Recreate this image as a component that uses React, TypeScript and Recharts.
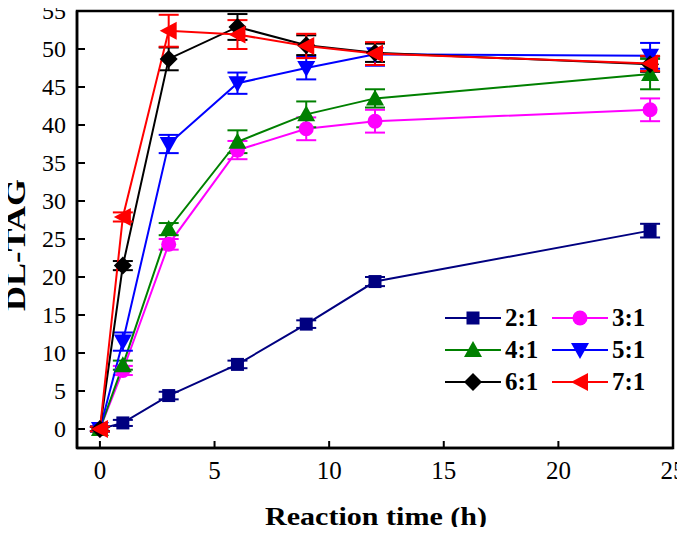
import { LineChart, Line, XAxis, YAxis, ErrorBar, ReferenceArea, Label } from 'recharts'

// reaction time (h)
const times = [0, 1, 3, 6, 9, 12, 24]

// DL-TAG yield per molar ratio
const ratio21 = [0, 0.8, 4.4, 8.5, 13.8, 19.4, 26.1]
const ratio31 = [0, 7.7, 24.3, 36.7, 39.5, 40.5, 42.0]
const ratio41 = [0, 8.4, 26.3, 37.8, 41.4, 43.5, 46.7]
const ratio51 = [0, 11.5, 37.5, 45.5, 47.5, 49.3, 49.1]
const ratio61 = [0, 21.5, 48.7, 52.9, 50.5, 49.5, 48.0]
const ratio71 = [0, 27.9, 52.4, 51.9, 50.4, 49.4, 48.1]

// error bar half-widths
const err21 = [0.3, 0.4, 0.5, 0.5, 0.5, 0.6, 0.9]
const err31 = [0.3, 0.6, 0.7, 1.2, 1.5, 1.5, 1.5]
const err41 = [0.3, 0.6, 0.8, 1.5, 1.7, 1.2, 2.0]
const err51 = [0.3, 1.2, 1.2, 1.4, 1.5, 1.5, 1.7]
const err61 = [0.3, 0.6, 1.5, 1.7, 1.3, 1.2, 1.0]
const err71 = [0.3, 0.6, 2.1, 1.9, 1.6, 1.5, 1.0]

const xTicks = [0, 5, 10, 15, 20, 25]
const yTicks = [0, 5, 10, 15, 20, 25, 30, 35, 40, 45, 50, 55]

type Shape = 'square' | 'circle' | 'up' | 'down' | 'diamond' | 'left'

const series: Array<{ key: string; name: string; color: string; shape: Shape; values: number[]; errors: number[] }> = [
  { key: 'r21', name: '2:1', color: '#000080', shape: 'square', values: ratio21, errors: err21 },
  { key: 'r31', name: '3:1', color: '#ff00ff', shape: 'circle', values: ratio31, errors: err31 },
  { key: 'r41', name: '4:1', color: '#008000', shape: 'up', values: ratio41, errors: err41 },
  { key: 'r51', name: '5:1', color: '#0000ff', shape: 'down', values: ratio51, errors: err51 },
  { key: 'r61', name: '6:1', color: '#000000', shape: 'diamond', values: ratio61, errors: err61 },
  { key: 'r71', name: '7:1', color: '#ff0000', shape: 'left', values: ratio71, errors: err71 },
]

const data = times.map((t, i) => {
  const row: Record<string, number> = { t }
  series.forEach(s => {
    row[s.key] = s.values[i]
    row[s.key + 'Err'] = s.errors[i]
  })
  return row
})

const FONT = '"Liberation Serif", "Times New Roman", serif'

function Marker({ cx, cy, shape, color }: { cx: number; cy: number; shape: Shape; color: string }) {
  if (cx == null || cy == null) return null
  switch (shape) {
    case 'square':
      return <rect x={cx - 6.5} y={cy - 6.5} width={13} height={13} fill={color} />
    case 'circle':
      return <circle cx={cx} cy={cy} r={7.5} fill={color} />
    case 'up':
      return <polygon points={`${cx},${cy - 9} ${cx - 9},${cy + 7} ${cx + 9},${cy + 7}`} fill={color} />
    case 'down':
      return <polygon points={`${cx},${cy + 9} ${cx - 9},${cy - 7} ${cx + 9},${cy - 7}`} fill={color} />
    case 'diamond':
      return <polygon points={`${cx},${cy - 9} ${cx + 9},${cy} ${cx},${cy + 9} ${cx - 9},${cy}`} fill={color} />
    default:
      return <polygon points={`${cx - 9},${cy} ${cx + 8},${cy - 9} ${cx + 8},${cy + 9}`} fill={color} />
  }
}

const XTick = (props: any) => {
  const { x, y, payload } = props
  return (
    <g>
      <line x1={x} y1={y} x2={x} y2={y - 7} stroke="#000" strokeWidth={2} />
      <text x={x} y={y + 31} textAnchor="middle" fontFamily={FONT} fontSize={25} fill="#000">
        {payload.value}
      </text>
    </g>
  )
}

const YTick = (props: any) => {
  const { x, y, payload } = props
  return (
    <g>
      <line x1={x} y1={y} x2={x + 8} y2={y} stroke="#000" strokeWidth={2} />
      <text x={x - 11} y={y + 8} textAnchor="end" fontFamily={FONT} fontSize={24} fill="#000">
        {payload.value}
      </text>
    </g>
  )
}

const LegendBox = () => (
  <div
    style={{
      position: 'absolute',
      left: 445,
      top: 302,
      display: 'grid',
      gridTemplateColumns: '107px 107px',
      fontFamily: FONT,
    }}
  >
    {series.map(s => (
      <div key={s.key} style={{ display: 'flex', alignItems: 'center', height: 32 }}>
        <svg width={56} height={24}>
          <line x1={0} y1={12} x2={56} y2={12} stroke={s.color} strokeWidth={2} />
          <Marker cx={28} cy={12} shape={s.shape} color={s.color} />
        </svg>
        <span style={{ marginLeft: 4, fontSize: 25, fontWeight: 'bold', color: '#000', lineHeight: '32px' }}>{s.name}</span>
      </div>
    ))}
  </div>
)

export default function App() {
  return (
    <div style={{ margin: -8, width: 685, height: 535, background: '#fff', position: 'relative' }}>
      <LineChart width={685} height={535} data={data} margin={{ top: 11, right: 12, bottom: 0, left: 0 }}>
        <ReferenceArea x1={-1} x2={25} y1={-2.5} y2={55} fill="none" stroke="#000" strokeWidth={2.5} ifOverflow="visible" />
        <XAxis
          type="number"
          dataKey="t"
          domain={[-1, 25]}
          ticks={xTicks}
          allowDataOverflow
          height={87}
          tickSize={0}
          tickMargin={0}
          tickLine={false}
          tick={<XTick />}
          axisLine={{ stroke: '#000', strokeWidth: 2.5 }}
        >
          <Label
            content={() => (
              <text
                x={376}
                y={525}
                textAnchor="middle"
                fontFamily={FONT}
                fontSize={26}
                fontWeight="bold"
                textLength={222}
                lengthAdjust="spacingAndGlyphs"
                fill="#000"
              >
                Reaction time (h)
              </text>
            )}
          />
        </XAxis>
        <YAxis
          type="number"
          domain={[-2.5, 55]}
          ticks={yTicks}
          allowDataOverflow
          width={77}
          tickSize={0}
          tickMargin={0}
          tickLine={false}
          tick={<YTick />}
          axisLine={{ stroke: '#000', strokeWidth: 2.5 }}
        >
          <Label
            content={() => (
              <text
                x={25}
                y={245}
                transform="rotate(-90, 25, 245)"
                textAnchor="middle"
                fontFamily={FONT}
                fontSize={27}
                fontWeight="bold"
                textLength={132}
                lengthAdjust="spacingAndGlyphs"
                fill="#000"
              >
                DL-TAG
              </text>
            )}
          />
        </YAxis>
        {series.map(s => (
          <Line
            key={s.key}
            type="linear"
            dataKey={s.key}
            name={s.name}
            stroke={s.color}
            strokeWidth={2}
            isAnimationActive={false}
            dot={(props: any) => (
              <Marker key={`${s.key}-${props.index}`} cx={props.cx} cy={props.cy} shape={s.shape} color={s.color} />
            )}
            activeDot={false}
          >
            <ErrorBar
              dataKey={s.key + 'Err'}
              direction="y"
              width={10}
              stroke={s.color}
              strokeWidth={2}
              isAnimationActive={false}
            />
          </Line>
        ))}
      </LineChart>
      <LegendBox />
    </div>
  )
}
